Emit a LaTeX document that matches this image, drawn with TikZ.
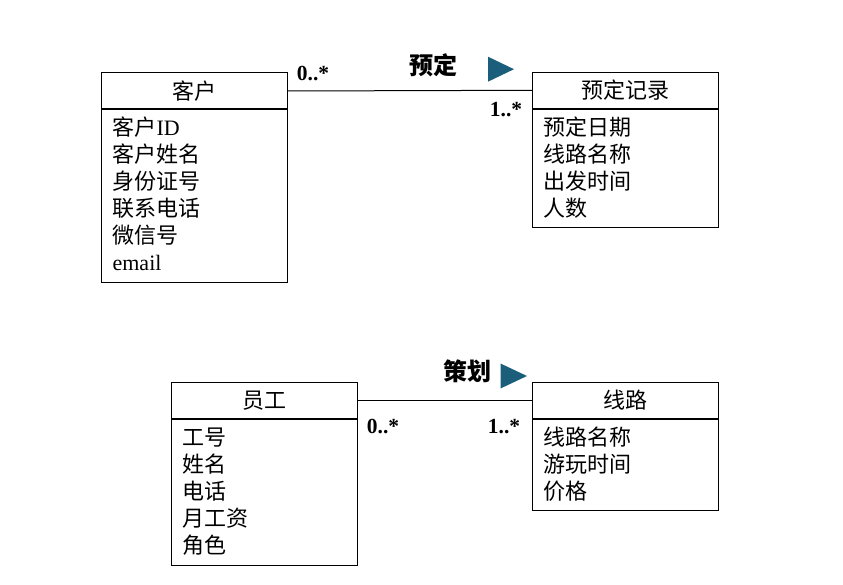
\documentclass[tikz,border=0pt]{standalone}
\usepackage{fontspec}
\setmainfont{Liberation Serif}
\newfontfamily\cjk{Noto Sans CJK SC}
\definecolor{tricol}{RGB}{27,94,124}
\newcommand{\zh}[1]{{\cjk #1}}
\newcommand{\attr}[1]{\hbox to 164pt{\rule[-8pt]{0pt}{27pt}#1\hfil}}
\newcommand{\cbody}[2]{\vbox to #1{\offinterlineskip\vskip7pt #2\vfil}}
\begin{document}
\begin{tikzpicture}[x=1pt,y=-1pt,
  classhead/.style={draw=black,line width=1pt,rectangle,minimum width=186pt,minimum height=36pt,inner sep=0pt,font=\cjk\fontsize{22}{27}\selectfont},
  classbody/.style={draw=black,line width=1pt,rectangle,minimum width=186pt,inner xsep=11pt,inner ysep=0pt,anchor=north,font=\fontsize{22}{27}\selectfont},
  assoc/.style={draw=black,line width=1pt},
  mult/.style={font=\bfseries\fontsize{21.5}{24}\selectfont,inner sep=0pt},
  rolename/.style={font=\cjk\bfseries\fontsize{24}{26}\selectfont,inner sep=0pt},
  tri/.style={fill=tricol}]
\useasboundingbox (0,0) rectangle (843,585);

% Customer
\node[classhead] (kh) at (194.6,91) {客户};
\node[classbody] (kb) at (kh.south) {\cbody{173pt}{%
  \attr{\zh{客户}ID}\attr{\zh{客户姓名}}\attr{\zh{身份证号}}\attr{\zh{联系电话}}\attr{\zh{微信号}}\attr{email}}};

% Booking record
\node[classhead] (rh) at (625.3,90.3) {预定记录};
\node[classbody] (rb) at (rh.south) {\cbody{118.4pt}{%
  \attr{\zh{预定日期}}\attr{\zh{线路名称}}\attr{\zh{出发时间}}\attr{\zh{人数}}}};

% Employee
\node[classhead] (eh) at (264.6,400.3) {员工};
\node[classbody] (eb) at (eh.south) {\cbody{145.7pt}{%
  \attr{\zh{工号}}\attr{\zh{姓名}}\attr{\zh{电话}}\attr{\zh{月工资}}\attr{\zh{角色}}}};

% Route
\node[classhead] (lh) at (625.3,400.3) {线路};
\node[classbody] (lb) at (lh.south) {\cbody{90.7pt}{%
  \attr{\zh{线路名称}}\attr{\zh{游玩时间}}\attr{\zh{价格}}}};

% Associations
\draw[assoc] (kh.east) -- (rh.west);
\draw[assoc] (eh.east) -- (lh.west);

% Labels
\node[rolename] (l1) at (433.5,65.5) {预定};
\fill[tri] (488,56.7) -- (514,69.2) -- (488,81.7) -- cycle;
\node[mult] (m1) at (313,74) {0..*};
\node[mult] (m2) at (506,110) {1..*};

\node[rolename] (l2) at (467.5,371) {策划};
\fill[tri] (500.5,363.5) -- (527,376) -- (500.5,388.5) -- cycle;
\node[mult] (m3) at (383,427) {0..*};
\node[mult] (m4) at (504,427) {1..*};
\end{tikzpicture}
\end{document}
